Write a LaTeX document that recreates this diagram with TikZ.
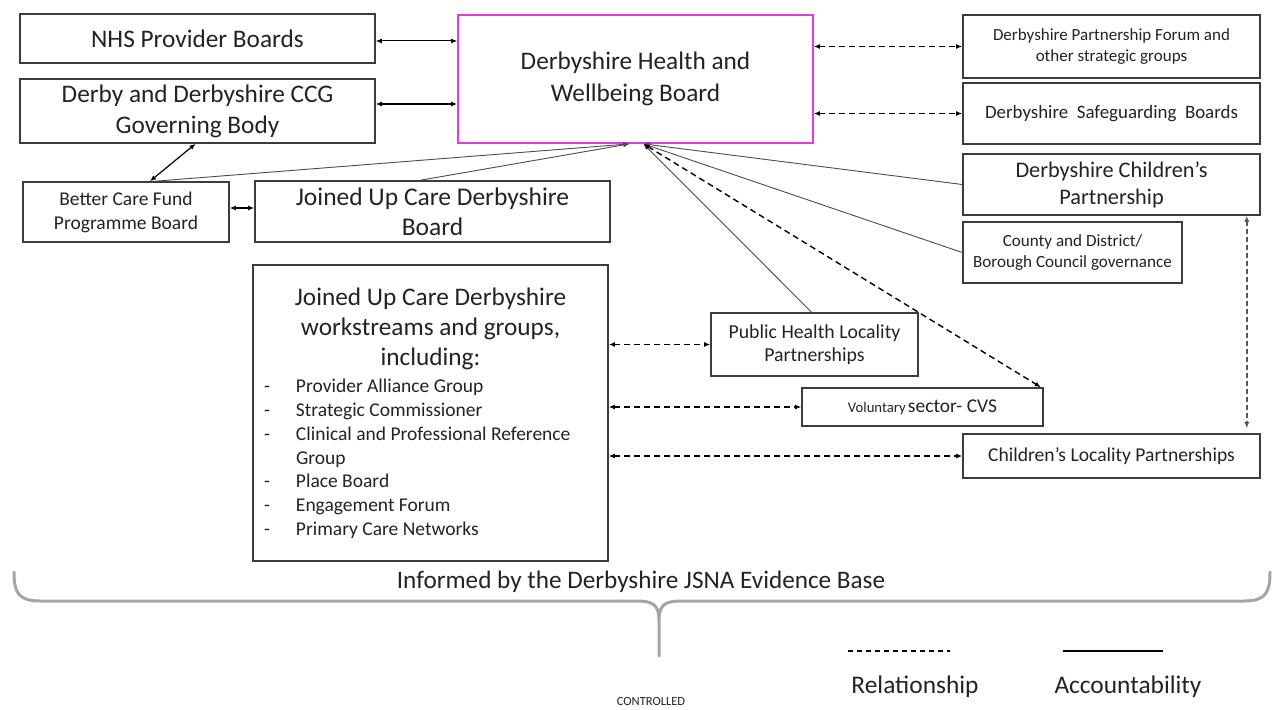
\documentclass[tikz,border=0pt]{standalone}
\usepackage{fontspec}
\setmainfont{Carlito}
\usetikzlibrary{arrows.meta,calc}
\definecolor{boxline}{RGB}{60,60,60}
\definecolor{txt}{RGB}{35,35,35}
\definecolor{magentab}{RGB}{225,60,225}
\definecolor{bracecol}{RGB}{165,165,165}
\tikzset{
  box/.style={draw=boxline, line width=1.6pt, inner sep=0pt, align=center, text=txt, fill=white},
  tip/.style={arrows={-{Latex[length=6pt,width=5pt]}}},
  bitip/.style={arrows={{Latex[length=6pt,width=5pt]}-{Latex[length=6pt,width=5pt]}}},
  rel/.style={bitip, line width=1.2pt, black},
  dashrel/.style={bitip, line width=1.4pt, black, dash pattern=on 6pt off 4pt},
  acc/.style={tip, line width=0.9pt, black!70},
  bracestyle/.style={draw=bracecol, line width=3pt, line cap=round},
  lbl/.style={inner sep=0pt, text=txt}
}
\begin{document}
\begin{tikzpicture}[x=1pt,y=-1pt]
\useasboundingbox (0,0) rectangle (1281,709);
% left column
\node[box, minimum width=355, minimum height=49, font=\fontsize{25.3}{30}\selectfont] (nhs) at (197.5,38.5) {NHS Provider Boards};
\node[box, minimum width=355, minimum height=64, font=\fontsize{25.3}{31}\selectfont] (ccg) at (197.5,111) {Derby and Derbyshire CCG\\Governing Body};
\node[box, minimum width=206, minimum height=60, font=\fontsize{19.5}{24}\selectfont] (bcf) at (126,212) {Better Care Fund\\Programme Board};
\node[box, minimum width=355, minimum height=61, font=\fontsize{25.5}{30}\selectfont] (jb) at (432.5,211.5) {Joined Up Care Derbyshire\\Board};
% centre
\node[box, draw=magentab, line width=1.8pt, minimum width=355, minimum height=128, font=\fontsize{25.3}{32}\selectfont] (hwb) at (635.5,79) {Derbyshire Health and\\Wellbeing Board};
% right column
\node[box, minimum width=297, minimum height=63, font=\fontsize{17}{21}\selectfont] (dpf) at (1111.5,46.5) {Derbyshire Partnership Forum and\\other strategic groups};
\node[box, minimum width=297, minimum height=61, font=\fontsize{18.9}{22}\selectfont] (sg) at (1111.5,113.5) {Derbyshire\ \ Safeguarding\ \ Boards};
\node[box, minimum width=297, minimum height=61, font=\fontsize{22.3}{27}\selectfont] (cp) at (1111.5,184.5) {Derbyshire Children’s\\Partnership};
\node[box, minimum width=219, minimum height=61, font=\fontsize{17.1}{21}\selectfont] (cdb) at (1072.5,252.5) {County and District/\\Borough Council governance};
% workstreams
\node[box, minimum width=355, minimum height=296] (ws) at (430.5,413) {%
\begin{minipage}{355pt}
\centering\fontsize{25.3}{30}\selectfont Joined Up Care Derbyshire\\workstreams and groups,\\including:\par
\vspace{4pt}
\raggedright\fontsize{19.5}{23.7}\selectfont
\hspace*{11pt}\makebox[32pt][l]{-}Provider Alliance Group\\
\hspace*{11pt}\makebox[32pt][l]{-}Strategic Commissioner\\
\hspace*{11pt}\makebox[32pt][l]{-}Clinical and Professional Reference\\
\hspace*{43pt}Group\\
\hspace*{11pt}\makebox[32pt][l]{-}Place Board\\
\hspace*{11pt}\makebox[32pt][l]{-}Engagement Forum\\
\hspace*{11pt}\makebox[32pt][l]{-}Primary Care Networks\par
\end{minipage}};
\node[box, minimum width=207, minimum height=63, font=\fontsize{19.8}{23}\selectfont] (phl) at (814.5,344.5) {Public Health Locality\\Partnerships};
\node[box, minimum width=241, minimum height=38] (vol) at (922.5,407) {{\fontsize{14.7}{16}\selectfont Voluntary} {\fontsize{19.5}{22}\selectfont sector- CVS}};
\node[box, minimum width=297, minimum height=44, font=\fontsize{19.6}{22}\selectfont] (cl) at (1111.5,456) {Children’s Locality Partnerships};
% coordinates on HWB bottom
\coordinate (hA) at ([xshift=-6pt]hwb.south);
\coordinate (hB) at ([xshift=8pt]hwb.south);
% solid relationship arrows
\draw[rel, line width=1pt] (nhs.east |- 0,41) -- (hwb.west |- 0,41);
\draw[rel, line width=1.5pt] ([yshift=7pt]ccg.east) -- (hwb.west |- 0,104);
\draw[rel] ([xshift=-2pt]ccg.south) -- ([xshift=24pt]bcf.north);
\draw[rel] ([yshift=4pt]bcf.east) -- (jb.west |- 0,208);
% accountability lines
\draw[acc] ([xshift=29pt]bcf.north) -- (hA);
\draw[acc] ([xshift=-12pt]jb.north) -- (hA);
\draw[acc] ([xshift=-3pt]phl.north) -- (hB);
\draw[acc] (cp.west) -- (hB);
\draw[acc] (cdb.west) -- (hB);
% dashed relationships
\draw[dashrel] (hB) -- ([xshift=-3pt]vol.north east);
\draw[dashrel] (hwb.east |- dpf.west) -- (dpf.west);
\draw[dashrel] (hwb.east |- sg.west) -- (sg.west);
\draw[dashrel] (ws.east |- phl.west) -- (phl.west);
\draw[dashrel] (ws.east |- vol.west) -- (vol.west);
\draw[dashrel] (ws.east |- cl.west) -- (cl.west);
\draw[dashrel, draw=black!65, line width=1.8pt, dash pattern=on 5pt off 3pt, shorten >=5pt] ([xshift=-14pt]cp.south east) -- ([xshift=-14pt]cp.south east |- cl.north);
% brace
\draw[bracestyle] (14,572) .. controls (14,592) and (18,601) .. (40,601) -- (636,601) .. controls (652,601) and (659,604) .. (659,620) -- (659,656);
\draw[bracestyle] (1270,572) .. controls (1270,592) and (1266,601) .. (1244,601) -- (682,601) .. controls (666,601) and (659,604) .. (659,620);
\node[lbl, font=\fontsize{25.2}{28}\selectfont] (jsna) at (641,582) {Informed by the Derbyshire JSNA Evidence Base};
% legend
\coordinate (dashA) at (848,651);
\coordinate (dashB) at (950,651);
\coordinate (solA) at (1063,651);
\coordinate (solB) at (1163,651);
\draw[line width=1.4pt, dash pattern=on 5pt off 4pt] (dashA) -- (dashB);
\draw[line width=1.4pt] (solA) -- (solB);
\node[lbl, font=\fontsize{25.4}{28}\selectfont] (relt) at (915,687) {Relationship};
\node[lbl, font=\fontsize{25.4}{28}\selectfont] (acct) at (1128,687) {Accountability};
\node[lbl, font=\fontsize{12.5}{14}\selectfont] (ctrl) at (651,701) {CONTROLLED};
\end{tikzpicture}
\end{document}
